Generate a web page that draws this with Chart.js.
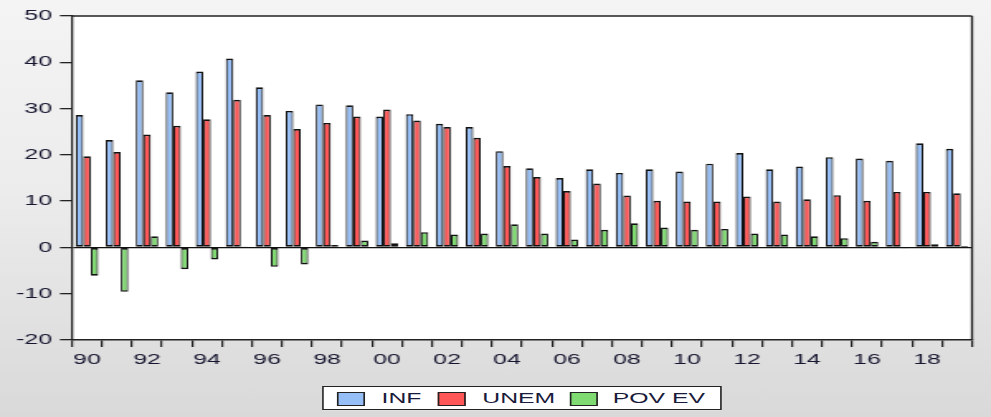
<!DOCTYPE html>
<html>
<head>
<meta charset="utf-8">
<script src="https://cdn.jsdelivr.net/npm/chart.js@4/dist/chart.umd.min.js"></script>
<style>
  html, body { margin: 0; padding: 0; overflow: hidden; }
  body { width: 991px; height: 417px; background: linear-gradient(#f4f4f4 0%, #ececec 45%, #d9d9d9 100%); }
  #wrap { position: absolute; left: 0; top: 0; width: 600px; height: 417px; transform-origin: 0 0; transform: scaleX(1.65167); }
  #c { position: absolute; left: 0; top: 0; }
  #legend { position: absolute; left: 195px; top: 386px; width: 240px; height: 22px; background: #fff; border: 1.4px solid #222; font-family: "Liberation Sans", Arial, sans-serif; font-size: 15px; color: #1a1a3a; }
  .sw { position: absolute; top: 5px; width: 15px; height: 12px; border: 1.2px solid #222; }
  .lt { position: absolute; top: 3px; line-height: 16px; white-space: nowrap; }
</style>
</head>
<body>
<div id="wrap">
  <canvas id="c" width="600" height="417"></canvas>
  <div id="legend"></div>
</div>
<script>
// ---- data ----
const years = [1990,1991,1992,1993,1994,1995,1996,1997,1998,1999,2000,2001,2002,2003,2004,2005,2006,2007,2008,2009,2010,2011,2012,2013,2014,2015,2016,2017,2018,2019];
const seriesNames = ["INF", "UNEM", "POV EV"];
const inf   = [28.6, 23.2, 36.1, 33.5, 38.0, 40.8, 34.6, 29.5, 30.9, 30.7, 28.3, 28.8, 26.7, 26.0, 20.8, 17.1, 15.0, 16.9, 16.1, 16.9, 16.4, 18.1, 20.4, 16.9, 17.5, 19.5, 19.2, 18.7, 22.5, 21.3];
const unem  = [19.7, 20.6, 24.4, 26.3, 27.7, 31.9, 28.6, 25.6, 26.9, 28.3, 29.8, 27.4, 26.0, 23.7, 17.6, 15.2, 12.2, 13.8, 11.2, 10.1, 9.9, 9.9, 11.0, 9.9, 10.4, 11.3, 10.1, 12.0, 12.0, 11.7];
const povev = [-6.1, -9.6, 2.4, -4.7, -2.6, 0.2, -4.2, -3.7, 0.5, 1.5, 0.9, 3.3, 2.8, 3.0, 5.0, 3.0, 1.7, 3.8, 5.2, 4.3, 3.8, 4.0, 3.0, 2.8, 2.4, 2.0, 1.2, -0.2, 0.7, 0.3];
const yTicks = [-20, -10, 0, 10, 20, 30, 40, 50];
const xTickLabels = years.map(y => (y % 2 === 0 ? String(y % 100).padStart(2, "0") : ""));

// ---- styles ----
const colors = ["#96bff8", "#ff5757", "#80da72"];
const S = 991 / 600;
const FONT = { family: '"Liberation Sans", Arial, sans-serif', size: 15 };

const framePlugin = {
  id: "frame",
  beforeDraw(chart) {
    const a = chart.chartArea, ctx = chart.ctx;
    ctx.save();
    ctx.fillStyle = "#ffffff";
    ctx.fillRect(a.left, a.top, a.right - a.left, a.bottom - a.top);
    ctx.restore();
  },
  afterDraw(chart) {
    const a = chart.chartArea, ctx = chart.ctx;
    ctx.save();
    ctx.strokeStyle = "#222";
    ctx.lineWidth = 1.6;
    ctx.beginPath();
    ctx.moveTo(a.left, a.top);
    ctx.lineTo(a.right, a.top);
    ctx.stroke();
    ctx.lineWidth = 1.3;
    ctx.beginPath();
    ctx.moveTo(a.right, a.top);
    ctx.lineTo(a.right, a.bottom);
    ctx.stroke();
    ctx.restore();
  }
};

new Chart(document.getElementById("c"), {
  type: "bar",
  data: {
    labels: years.map(String),
    datasets: [inf, unem, povev].map((d, i) => ({
      label: seriesNames[i],
      data: d,
      backgroundColor: colors[i],
      borderColor: "#111",
      borderWidth: { top: 1.7, bottom: 1.7, left: 1.1, right: 1.1 },
      borderSkipped: false,
      inflateAmount: 0,
      categoryPercentage: 0.75,
      barPercentage: 1.0
    }))
  },
  options: {
    responsive: false,
    animation: false,
    devicePixelRatio: 1,
    layout: { padding: { left: 0, top: 16, right: 600 - 972 / S, bottom: 0 } },
    plugins: { legend: { display: false }, tooltip: { enabled: false } },
    scales: {
      x: {
        grid: { offset: true, drawOnChartArea: false, tickLength: 7, tickColor: "#222", lineWidth: 1.2 },
        border: { display: true, color: "#222", width: 1.6 },
        ticks: {
          autoSkip: false, maxRotation: 0, minRotation: 0, padding: 4,
          font: FONT, color: "#161630",
          callback: (v, i) => xTickLabels[i]
        },
        afterFit: s => { s.height = 77; }
      },
      y: {
        min: -20, max: 50,
        afterBuildTicks: s => { s.ticks = yTicks.map(v => ({ value: v })); },
        grid: {
          drawOnChartArea: true,
          color: c => (c.tick && c.tick.value === 0 ? "#111" : "rgba(0,0,0,0)"),
          tickColor: "#222", tickLength: 7.3, lineWidth: 1.3
        },
        border: { display: true, color: "#222", width: 1.3 },
        ticks: { font: FONT, color: "#161630", padding: 4.8 },
        afterFit: s => { s.width = 72 / S; }
      }
    }
  },
  plugins: [framePlugin]
});

// ---- legend ----
const lg = document.getElementById("legend");
const swX = [8, 69, 149];
const txX = [35, 96, 175];
seriesNames.forEach((n, i) => {
  const sw = document.createElement("div");
  sw.className = "sw";
  sw.style.left = swX[i] + "px";
  sw.style.background = colors[i];
  lg.appendChild(sw);
  const t = document.createElement("div");
  t.className = "lt";
  t.style.left = txX[i] + "px";
  t.textContent = n;
  lg.appendChild(t);
});
</script>
</body>
</html>
